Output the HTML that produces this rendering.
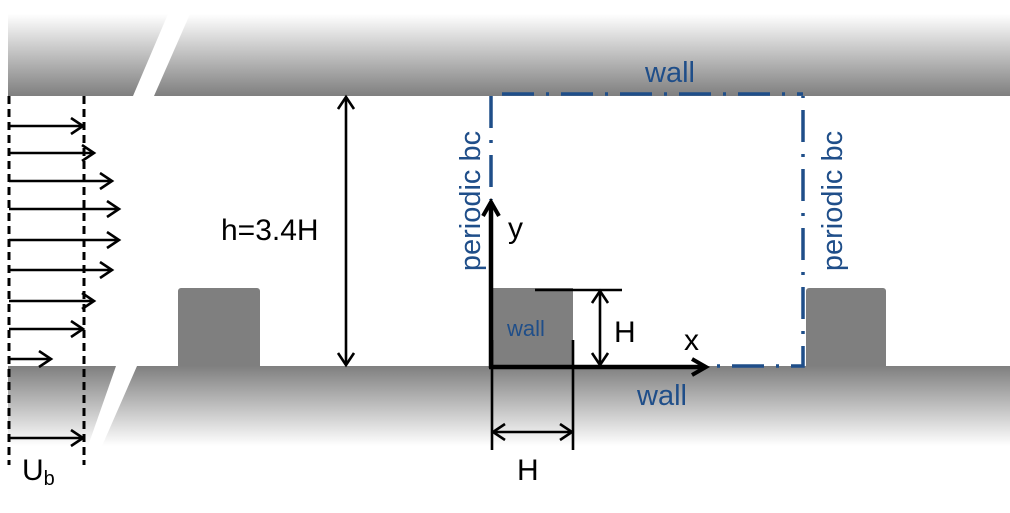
<!DOCTYPE html>
<html><head><style>body{margin:0;background:#fff}svg{display:block}</style></head><body>
<svg width="1010" height="513" viewBox="0 0 1010 513" xmlns="http://www.w3.org/2000/svg" font-family="Liberation Sans, sans-serif">
<defs>
<linearGradient id="gt" x1="0" y1="0" x2="0" y2="1"><stop offset="0" stop-color="#fff"/><stop offset="1" stop-color="#7f7f7f"/></linearGradient>
<linearGradient id="gb" x1="0" y1="0" x2="0" y2="1"><stop offset="0" stop-color="#7f7f7f"/><stop offset="1" stop-color="#fff"/></linearGradient>
<marker id="a" markerWidth="18" markerHeight="20" refX="14" refY="9" orient="auto-start-reverse" markerUnits="userSpaceOnUse"><path d="M2,1 L14,9 L2,17" fill="none" stroke="#000" stroke-width="2.6"/></marker>
<marker id="ab" markerWidth="20" markerHeight="22" refX="16" refY="10" orient="auto" markerUnits="userSpaceOnUse"><path d="M2,2 L16,10 L2,18" fill="none" stroke="#000" stroke-width="4"/></marker>
</defs>
<rect x="8" y="14" width="1002" height="82" fill="url(#gt)"/>
<polygon points="168,14 190,14 154,96 133,96" fill="#fff"/>
<rect x="8" y="366" width="1002" height="80" fill="url(#gb)"/>
<polygon points="116,366 137,366 102,446 88,446" fill="#fff"/>
<path d="M178,366 V291 a3,3 0 0 1 3,-3 H257 a3,3 0 0 1 3,3 V366Z" fill="#7f7f7f"/>
<rect x="491" y="288" width="82" height="78" fill="#7f7f7f"/>
<path d="M806,366 V291 a3,3 0 0 1 3,-3 H883 a3,3 0 0 1 3,3 V366Z" fill="#7f7f7f"/>
<g stroke="#1f4e89" stroke-width="3.5" fill="none">
<path d="M491,96 V200" stroke-dasharray="32,12,3,12"/>
<path d="M502,94 H803" stroke-dasharray="32,12,3,12"/>
<path d="M803,96 V366 H715" stroke-dasharray="32,12,3,12" stroke-dashoffset="-14"/>
</g>
<g stroke="#000" stroke-width="3" stroke-dasharray="8,5"><path d="M9,96 V465"/><path d="M84,96 V465"/></g>
<g stroke="#000" stroke-width="2.6" marker-end="url(#a)">
<path d="M9,126 H83"/><path d="M9,153 H94"/><path d="M9,181 H112"/><path d="M9,209 H119"/><path d="M9,240 H119"/><path d="M9,270 H112"/><path d="M9,301 H94"/><path d="M9,329 H83"/><path d="M9,359 H51"/><path d="M9,438 H83"/>
</g>
<path d="M346,97 V365" stroke="#000" stroke-width="2.6" marker-end="url(#a)" marker-start="url(#a)"/>
<path d="M491,368 V202" stroke="#000" stroke-width="4.5" marker-end="url(#ab)"/>
<path d="M489,367 H706" stroke="#000" stroke-width="4.5" marker-end="url(#ab)"/>
<path d="M535,290 H622" stroke="#000" stroke-width="2.6"/>
<path d="M600,291 V365" stroke="#000" stroke-width="2.6" marker-end="url(#a)" marker-start="url(#a)"/>
<path d="M492,340 V450 M573,340 V450" stroke="#000" stroke-width="2.6"/>
<path d="M493,432 H572" stroke="#000" stroke-width="2.6" marker-end="url(#a)" marker-start="url(#a)"/>
<g font-size="30" fill="#000">
<text x="221" y="240">h=3.4H</text>
<text x="508" y="238">y</text>
<text x="684" y="350">x</text>
<text x="614" y="342">H</text>
<text x="517" y="480">H</text>
<text x="22" y="480">U<tspan font-size="20" dy="5">b</tspan></text>
</g>
<g fill="#1f4e89" font-size="29">
<text x="645" y="82">wall</text>
<text x="507" y="336" font-size="22">wall</text>
<text x="637" y="405">wall</text>
<text transform="translate(480,201) rotate(-90)" text-anchor="middle">periodic bc</text>
<text transform="translate(842,201) rotate(-90)" text-anchor="middle">periodic bc</text>
</g>
</svg>
</body></html>
